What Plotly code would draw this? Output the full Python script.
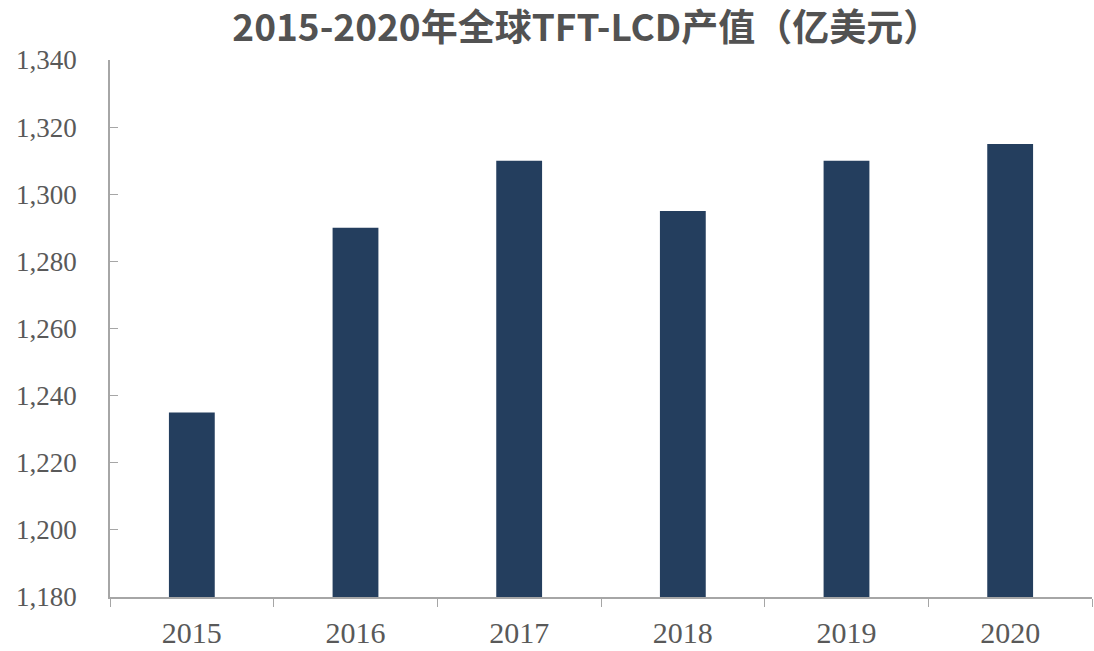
import plotly.graph_objects as go

years = ["2015", "2016", "2017", "2018", "2019", "2020"]
values = [1235, 1290, 1310, 1295, 1310, 1315]
y_ticks = [1180, 1200, 1220, 1240, 1260, 1280, 1300, 1320, 1340]

fig = go.Figure(go.Bar(x=years, y=values, width=0.28, marker_color="#243E5E",
                       marker_line_width=0))

fig.update_layout(
    width=1094, height=651,
    paper_bgcolor="white", plot_bgcolor="white",
    margin=dict(l=110, r=2, t=60, b=51),
    title=dict(text="<b>2015-2020年全球TFT-LCD产值（亿美元）</b>",
               font=dict(family="Noto Sans CJK SC", size=37, color="#525252"),
               x=0.485, xanchor="center", xref="paper",
               y=1 - 28 / 651, yanchor="middle", yref="container"),
    showlegend=False,
)
fig.update_xaxes(
    type="category", showline=True, linecolor="#A6A6A6", linewidth=1.5,
    ticks="outside", ticklen=8, tickcolor="#A6A6A6", tickson="boundaries",
    tickfont=dict(family="Liberation Serif", size=30, color="#595959"),
    showgrid=False, ticklabelstandoff=8,
)
fig.update_yaxes(
    range=[1180, 1340], tickvals=y_ticks, tickformat=",",
    showline=True, linecolor="#A6A6A6", linewidth=1.5,
    ticks="inside", ticklen=8, tickcolor="#A6A6A6",
    tickfont=dict(family="Liberation Serif", size=27, color="#595959"),
    showgrid=False, zeroline=False, ticklabelstandoff=26,
)

fig.write_html("out.html")
